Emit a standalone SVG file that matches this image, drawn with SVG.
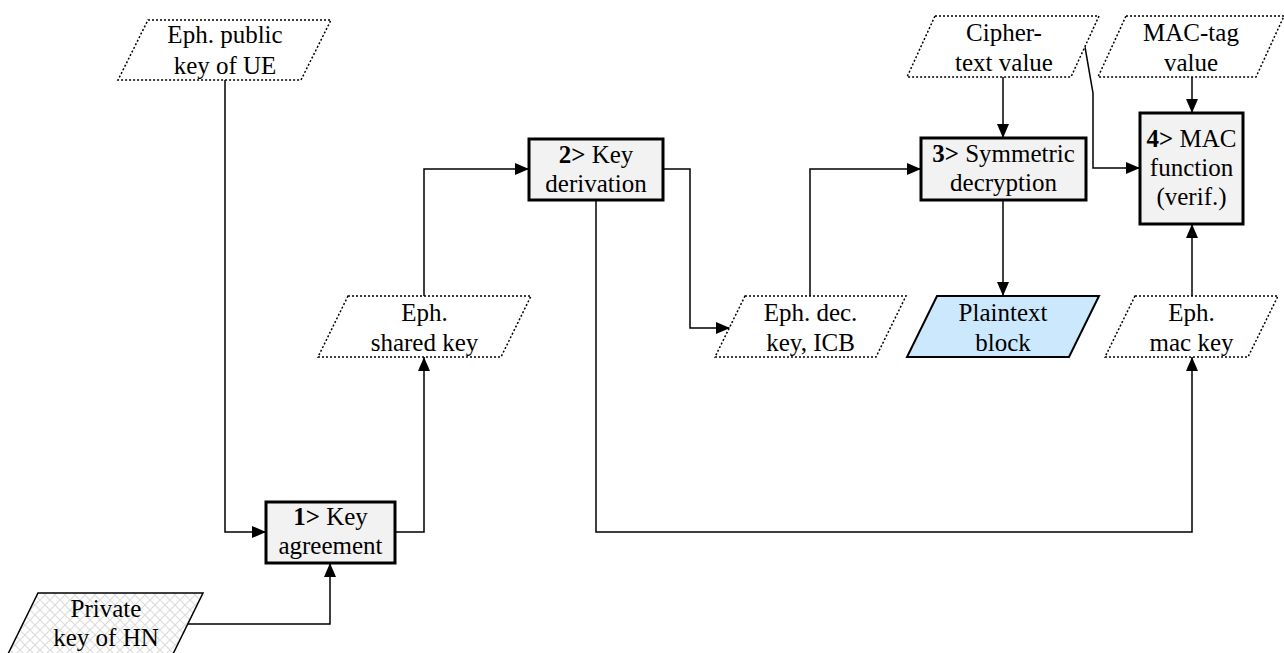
<svg xmlns="http://www.w3.org/2000/svg" width="1284" height="653" viewBox="0 0 1284 653">
<defs>
<marker id="arr" viewBox="0 0 14 12" refX="14" refY="6" markerWidth="14" markerHeight="12" markerUnits="userSpaceOnUse" orient="auto">
<path d="M0,0 L14,6 L0,12 Z" fill="#000"/>
</marker>
<pattern id="hatch" width="10" height="10" patternUnits="userSpaceOnUse">
<rect width="10" height="10" fill="#fff"/>
<path d="M0,0 L10,10 M10,0 L0,10" stroke="#dcdcdc" stroke-width="1.2"/>
</pattern>
</defs>
<style>
.b{font-weight:bold}
.box{fill:#f2f2f2;stroke:#000;stroke-width:3}
.data{fill:#fff;stroke:#000;stroke-width:1.5;stroke-dasharray:2 2}
.plain{fill:#cce8fc;stroke:#000;stroke-width:2}
.priv{fill:url(#hatch);stroke:#000;stroke-width:1.5}
.c{fill:none;stroke:#000;stroke-width:1.5}
</style>
<rect width="1284" height="653" fill="#fff"/>
<g id="connectors">
<polyline class="c" points="225,80 225,532 266,532" marker-end="url(#arr)"/>
<polyline class="c" points="188,624 330,624 330,563" marker-end="url(#arr)"/>
<polyline class="c" points="395,532 424,532 424,357" marker-end="url(#arr)"/>
<polyline class="c" points="424,296 424,169 529,169" marker-end="url(#arr)"/>
<polyline class="c" points="663,169 690,169 690,328 730,328" marker-end="url(#arr)"/>
<polyline class="c" points="596,200 596,532 1192,532 1192,357" marker-end="url(#arr)"/>
<polyline class="c" points="810,296 810,169 921,169" marker-end="url(#arr)"/>
<polyline class="c" points="1003,77 1003,138" marker-end="url(#arr)"/>
<polyline class="c" points="1085,47 1093,93 1093,168 1140,168" marker-end="url(#arr)"/>
<polyline class="c" points="1192,77 1192,113" marker-end="url(#arr)"/>
<polyline class="c" points="1003,200 1003,296" marker-end="url(#arr)"/>
<polyline class="c" points="1192,296 1192,224" marker-end="url(#arr)"/>
</g>
<g font-family="'Liberation Serif', 'DejaVu Serif', serif" font-size="25" text-anchor="middle" fill="#000">
<g id="pubUE">
<polygon class="data" points="148,20 331,20 301,80 118,80"/>
<text x="225" y="43">Eph. public</text>
<text x="225" y="74">key of UE</text>
</g>
<g id="privHN">
<polygon class="priv" points="38,593 203,593 173,654 8,654"/>
<text x="106" y="616.5">Private</text>
<text x="106" y="646">key of HN</text>
</g>
<g id="box1">
<rect class="box" x="266" y="502" width="129" height="61"/>
<text x="330.5" y="525"><tspan class="b">1&gt;</tspan> Key</text>
<text x="330.5" y="554">agreement</text>
</g>
<g id="sharedKey">
<polygon class="data" points="348,296 531,296 501,357 318,357"/>
<text x="424.5" y="320.5">Eph.</text>
<text x="424.5" y="350.5">shared key</text>
</g>
<g id="box2">
<rect class="box" x="529" y="139" width="134" height="61"/>
<text x="596" y="162.5"><tspan class="b">2&gt;</tspan> Key</text>
<text x="596" y="191.5">derivation</text>
</g>
<g id="decKey">
<polygon class="data" points="745,296 906,296 876,357 715,357"/>
<text x="810.5" y="320.5">Eph. dec.</text>
<text x="810.5" y="350.5">key, ICB</text>
</g>
<g id="cipher">
<polygon class="data" points="935,16 1099,16 1071,77 907,77"/>
<text x="1004" y="41">Cipher-</text>
<text x="1004" y="70.5">text value</text>
</g>
<g id="box3">
<rect class="box" x="921" y="138" width="165" height="62"/>
<text x="1003.5" y="161.5"><tspan class="b">3&gt;</tspan> Symmetric</text>
<text x="1003.5" y="191">decryption</text>
</g>
<g id="plaintext">
<polygon class="plain" points="937,296 1099,296 1069,357 907,357"/>
<text x="1003" y="320.5">Plaintext</text>
<text x="1003" y="350.5">block</text>
</g>
<g id="macTag">
<polygon class="data" points="1126,16 1284,16 1256,77 1098,77"/>
<text x="1191" y="41">MAC-tag</text>
<text x="1191" y="70.5">value</text>
</g>
<g id="box4">
<rect class="box" x="1140" y="113" width="103" height="111"/>
<text x="1191.5" y="147"><tspan class="b">4&gt;</tspan> MAC</text>
<text x="1191.5" y="176">function</text>
<text x="1191.5" y="205">(verif.)</text>
</g>
<g id="macKey">
<polygon class="data" points="1135,296 1278,296 1248,357 1105,357"/>
<text x="1191.5" y="320.5">Eph.</text>
<text x="1191.5" y="350.5">mac key</text>
</g>
</g>
</svg>
